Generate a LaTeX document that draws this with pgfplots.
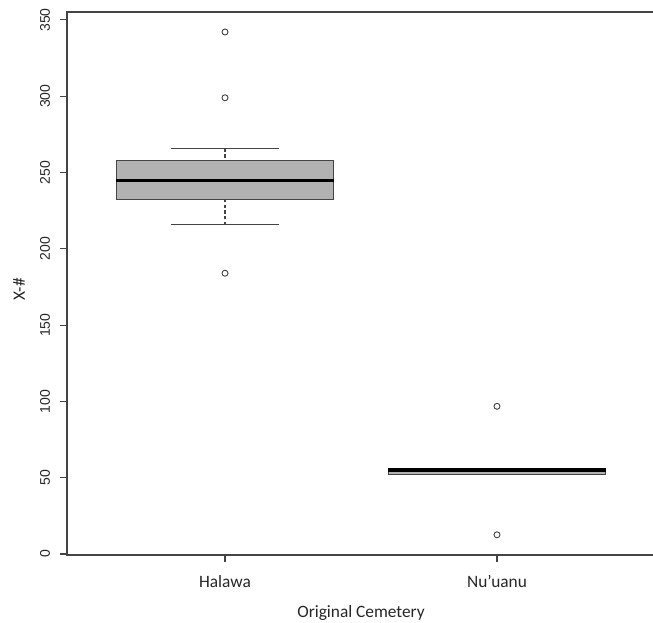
\documentclass[border=0pt]{standalone}
\usepackage{pgfplots}
\pgfplotsset{compat=1.18}
\usepackage{fontspec}
\setmainfont{Carlito}
\newfontfamily\arialf{Liberation Sans}
\definecolor{boxfill}{RGB}{178,178,178}
\definecolor{framec}{RGB}{68,68,68}
\begin{document}
\begin{tikzpicture}
\useasboundingbox (0,0) rectangle (489.75pt,466.5pt);
\begin{axis}[
  at={(50.25pt,50.25pt)}, anchor=south west,
  scale only axis, width=441pt, height=407.25pt,
  xmin=0.419, xmax=2.581, ymin=-0.65, ymax=355.2,
  axis line style={framec, line width=0.8pt},
  xtick={1,2}, xticklabels={Halawa, Nu’uanu},
  ytick={0,50,100,150,200,250,300,350},
  tick align=outside, major tick length=5.25pt,
  tick style={framec, line width=0.8pt},
  xtick pos=bottom, ytick pos=left,
  /pgf/number format/assume math mode=true,
  yticklabel style={rotate=90, anchor=south, yshift=4pt, font=\arialf\fontsize{10.5}{12}\selectfont, text=black!85},
  xticklabel style={yshift=-6.5pt, font=\fontsize{13}{15}\selectfont, text=black!85},
  xlabel={Original Cemetery},
  xlabel style={at={(axis description cs:0.5,0)}, anchor=south, inner sep=0pt, yshift=-49.3pt, font=\fontsize{13}{15}\selectfont, text=black!85},
  ylabel={X-\#},
  ylabel style={at={(axis description cs:0,0.489)}, rotate=0, anchor=center, yshift=36pt, font=\fontsize{13}{15}\selectfont, text=black!85},
]
% Halawa: whiskers 215.7 / 266.0, quartiles 232.2 / 257.8, median 244.9
\addplot[framec, line width=0.8pt, dash pattern=on 2.4pt off 1.8pt] coordinates {(1,215.7) (1,266.0)};
\addplot[framec, line width=0.8pt] coordinates {(0.8,215.7) (1.2,215.7)};
\addplot[framec, line width=0.8pt] coordinates {(0.8,266.0) (1.2,266.0)};
\addplot[fill=boxfill, draw=framec, line width=0.8pt, line join=miter] coordinates {(0.6,232.2) (1.4,232.2) (1.4,257.8) (0.6,257.8) (0.6,232.2)};
\addplot[black, line width=2.4pt] coordinates {(0.6,244.9) (1.4,244.9)};
% Nu'uanu: quartiles 52.3 / 56.3, median 55.1
\addplot[framec, line width=0.8pt] coordinates {(1.8,52.3) (2.2,52.3)};
\addplot[framec, line width=0.8pt] coordinates {(1.8,56.3) (2.2,56.3)};
\addplot[fill=boxfill, draw=framec, line width=0.8pt, line join=miter] coordinates {(1.6,52.3) (2.4,52.3) (2.4,56.3) (1.6,56.3) (1.6,52.3)};
\addplot[black, line width=2.4pt] coordinates {(1.6,55.1) (2.4,55.1)};
% outliers
\addplot[only marks, mark=o, mark size=2.25pt, mark options={framec, line width=0.7pt, solid}]
  coordinates {(1,342.1) (1,299.0) (1,184.0) (2,96.8) (2,12.6)};
\end{axis}
\end{tikzpicture}
\end{document}
